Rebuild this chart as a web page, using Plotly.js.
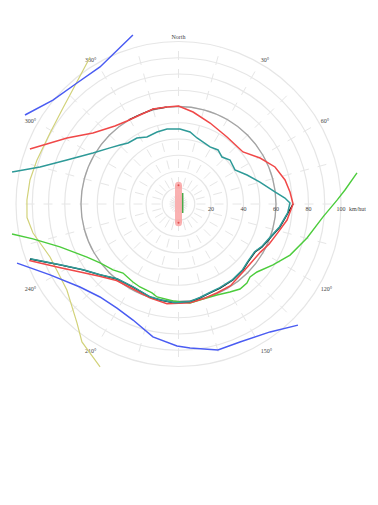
<!DOCTYPE html>
<html><head><meta charset="utf-8">
<script src="https://cdn.plot.ly/plotly-3.0.1.min.js"></script>
<style>html,body{margin:0;padding:0;background:#fff;overflow:hidden;width:378px;height:505px;}
#chart{position:absolute;left:-20px;top:0;width:418px;height:505px;}</style>
</head><body><div id="chart"></div>
<script>
// Reference circle (r = 60)
const circleTheta = [0,15,30,45,60,75,90,105,120,135,150,165,180,195,210,225,240,255,270,285,300,315,330,345,360];
const circleR     = [60,60,60,60,60,60,60,60,60,60,60,60,60,60,60,60,60,60,60,60,60,60,60,60,60];

const redTheta = [290.3,300.6,309.7,320.8,328.2,336.6,345.0,353.2,360,369.0,381.3,395.9,411.1,420.6,429.0,437.3,443.9,450,458.4,466.4,473.8,480.4,495.7,507.5,516.4,525.4,533.3,546.6,557.0,568.4,579.0,587.5,594.5,602.0,609.3];
const redR     = [97.5,79.7,68.4,61.9,60.1,59.7,60.5,60.1,60.3,57.3,53.5,50.9,51.0,57.6,63.6,67.2,69.0,70.5,67.5,63.5,61.0,58.5,57.6,59.6,59.6,60.3,61.2,61.8,60.4,59.3,60.6,65.9,72.6,83.1,98.2];

const tealTheta = [280.9,285.0,291.5,300.8,309.3,315.2,320.4,327.8,334.8,343.4,351.3,361.1,369.1,375.7,388.9,396.2,402.8,409.5,418.9,427.1,434.9,442.9,446.8,449.5,454.7,462.8,470.4,477.2,482.1,489.8,495.7,504.4,513.7,520.5,527.1,533.3,542.0,550.9,557.0,568.7,579.4,587.9,595.4,602.8,609.7];
const tealR     = [104.3,88.2,73.8,61.3,54.5,51.1,48.7,48.0,45.6,46.2,46.7,46.2,44.9,42.2,40.1,41.2,39.4,41.7,40.6,45.8,51.9,59.8,65.6,68.6,67.4,63.7,59.8,57.5,55.3,55.4,56.5,57.2,57.4,57.8,59.0,60.4,60.8,60.0,59.7,58.1,59.5,64.9,71.2,81.8,97.3];

const blackTheta = [90,94.7,102.8,110.4,117.2,122.1,129.8,135.7,144.4,153.7,160.5,167.1,173.3,182.0,190.9,197.0,208.7,219.4,227.9,235.4,242.8,249.7];
const blackR     = [70.5,67.6,64.0,60.1,57.8,55.6,55.7,56.8,57.5,57.7,58.1,59.3,60.7,61.0,60.2,59.9,58.3,59.7,65.1,71.4,82.0,97.5];
const blackTopTheta = [329.5,336.6,345.0,353.0];
const blackTopR     = [60.1,59.8,60.4,60.1];

const greenTheta = [80.1,85.2,88.6,95.1,104.8,114.6,122.8,130.9,135.6,139.1,144.1,149.7,157.1,165.5,173.4,183.2,193.0,196.6,204.9,210.3,218.8,224.8,233.1,239.9,250.1,256.5,259.8];
const greenR     = [111.5,102.8,97.6,89.3,81.8,75.5,69.2,63.9,62.9,64.3,64.6,62.7,60.8,60.4,61.3,59.8,58.7,57.1,56.3,55.6,54.5,57.2,60.4,65.1,77.6,92.1,104.1];

const blueUpperTheta = [300.1,309.6,320.0,330.2,344.9];
const blueUpperR     = [109.2,100.3,97.2,97.2,107.7];
const blueLowerTheta = [249.9,241.1,229.9,220.2,210.6,201.4,190.9,180.6,175.4,164.9,156.0,144.4,135.4];
const blueLowerR     = [105.8,90.3,79.3,74.9,74.4,76.7,83.3,87.4,88.9,93.1,93.0,96.8,104.7];

const khakiTheta = [329.0,320.2,309.7,298.9,287.3,279.2,271.5,264.9,258.7,247.6,232.4,220.5,215.0,205.7];
const khakiR     = [105.6,97.7,92.4,90.3,91.2,92.6,93.3,93.6,91.3,85.5,86.7,96.2,103.6,111.3];

const barTheta = [0,180];
const barR     = [11.6,11.6];
const shortGreenTheta = [20.9,155];
const shortGreenR     = [7.2,6.1];

const radialTicks = [10,20,30,40,50,60,70,80,90,100];
const radialText  = ['','20','','40','','60','','80','','100'];
const unitText = ['km/hut'];
const unitR = [105.0];
const unitTheta = [91.7];
const angTicks = [0,15,30,45,60,75,90,105,120,135,150,165,180,195,210,225,240,255,270,285,300,315,330,345];
const angText  = ['North','','30°','','60°','','','','120°','','150°','','','','210°','','240°','','','','300°','','330°',''];

function line(r, theta, color, width, sub, extra) {
  return Object.assign({type:'scatterpolar', mode:'lines', r:r, theta:theta, subplot:sub,
    line:{color:color, width:width}, cliponaxis:false, hoverinfo:'skip', showlegend:false}, extra||{});
}
const traces = [
  line(circleR, circleTheta, '#a3a3a3', 1.3, 'polar', {line:{color:'#a3a3a3', width:1.3, shape:'spline'}}),
  line(barR, barTheta, 'rgba(249,170,170,0.9)', 7, 'polar', {mode:'lines+markers', marker:{size:7, color:'rgba(249,170,170,0.9)'}}),
  line(barR, barTheta, '#e06060', 0, 'polar', {mode:'markers', marker:{size:2, color:'#e05050'}}),
  line(shortGreenR, shortGreenTheta, '#49a84a', 1.5, 'polar'),
  line(khakiR, khakiTheta, '#d2d27a', 1.2, 'polar2'),
  line(blueUpperR, blueUpperTheta, '#4a5cf2', 1.5, 'polar2'),
  line(blueLowerR, blueLowerTheta, '#4a5cf2', 1.5, 'polar2'),
  line(greenR, greenTheta, '#4ccc3c', 1.4, 'polar2'),
  line(blackR, blackTheta, '#111111', 1.4, 'polar2'),
  line(blackTopR, blackTopTheta, '#222222', 1.2, 'polar2'),
  line(redR, redTheta, '#f04848', 1.5, 'polar2'),
  line(tealR, tealTheta, '#2e9a98', 1.5, 'polar2'),
  {type:'scatterpolar', mode:'text', subplot:'polar2', r:unitR, theta:unitTheta, text:unitText,
   textposition:'middle right', textfont:{family:'Liberation Serif, serif', size:6, color:'#444'},
   cliponaxis:false, hoverinfo:'skip', showlegend:false}
];

const W = 418, H = 505, CX = 198.5, CY = 301; // centre in paper px (y from bottom)
const R1 = 162.5, R2 = 186.875;
const layout = {
  width:W, height:H,
  margin:{l:0, r:0, t:0, b:0, pad:0},
  paper_bgcolor:'rgba(0,0,0,0)', plot_bgcolor:'rgba(0,0,0,0)',
  font:{family:'Liberation Serif, serif', size:6, color:'#444'},
  showlegend:false,
  polar:{
    domain:{x:[(CX-R1)/W,(CX+R1)/W], y:[(CY-R1)/H,(CY+R1)/H]},
    bgcolor:'#fff',
    radialaxis:{range:[0,100], tickmode:'array', tickvals:radialTicks, ticktext:radialText,
      showline:false, ticks:'', gridcolor:'#e6e6e6', gridwidth:1.2, angle:0,
      tickfont:{family:'Liberation Serif, serif', size:6, color:'#444'}},
    angularaxis:{rotation:90, direction:'clockwise', tickmode:'array', tickvals:angTicks, ticktext:angText,
      showline:true, linecolor:'#e6e6e6', linewidth:1.2, ticks:'', gridcolor:'#e6e6e6', griddash:'dash', gridwidth:1,
      tickfont:{family:'Liberation Serif, serif', size:6, color:'#444'}}
  },
  polar2:{
    domain:{x:[(CX-R2)/W,(CX+R2)/W], y:[(CY-R2)/H,(CY+R2)/H]},
    bgcolor:'rgba(0,0,0,0)',
    radialaxis:{range:[0,115], visible:false, showgrid:false, showline:false, showticklabels:false, ticks:''},
    angularaxis:{rotation:90, direction:'clockwise', visible:false, showgrid:false, showline:false, showticklabels:false, ticks:''}
  }
};
Plotly.newPlot('chart', traces, layout, {staticPlot:true, displayModeBar:false});
</script>
</body></html>
